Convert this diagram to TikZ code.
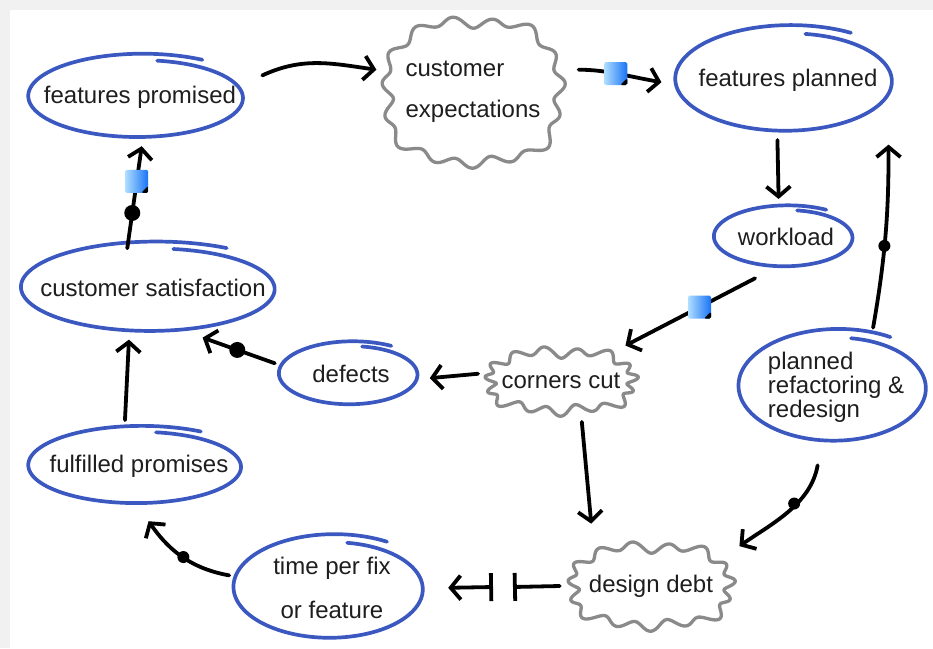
\documentclass[tikz,border=0pt]{standalone}
\usepackage{fontspec}
\setmainfont{Liberation Sans}
\usetikzlibrary{arrows.meta,shapes.geometric}
\definecolor{ellblue}{RGB}{58,88,192}
\definecolor{cloudgray}{RGB}{138,138,138}
\definecolor{ink}{RGB}{30,30,30}
\definecolor{sqlight}{RGB}{175,222,255}
\definecolor{sqdark}{RGB}{25,115,245}
\definecolor{framegray}{RGB}{241,241,241}
\newcommand{\skell}[3]{\begin{scope}[shift={(#1.center)}]\draw[ellline] plot[domain=0:382,samples=120,smooth,variable=\x] ({#2*(0.9+0.17*\x/382)*cos(80-\x)},{#3*(0.9+0.17*\x/382)*sin(80-\x)});\end{scope}}
\newcommand{\skcloud}[3]{\begin{scope}[shift={(#1.center)}]\draw[cloudline] plot[domain=0:360,samples=241,smooth,variable=\x] ({(#2*(1+0.1*sin(2*\x)*sin(2*\x))+4.5*sin(15*\x)+2*sin(7*\x+30))*cos(\x)},{(#3*(1+0.1*sin(2*\x)*sin(2*\x))+4.5*sin(15*\x)+2*sin(7*\x+30))*sin(\x)}) -- cycle;\end{scope}}
\tikzset{
  ellline/.style={draw=ellblue, line width=3.7pt, line cap=round},
  cloudline/.style={draw=cloudgray, line width=3.3pt, line join=round},
  nd/.style={ellipse, draw=none, inner sep=0pt, text=ink, font=\fontsize{24}{24}\selectfont},
  conn/.style={draw=black, line width=3.8pt, line cap=round, -{Straight Barb[length=10pt,width=24pt]}},
  bsq/.style={rectangle, draw=none, minimum size=23pt, inner sep=0pt, rounded corners=1.5pt,
    left color=sqlight, right color=sqdark,
    path picture={\fill[black] (path picture bounding box.south east) -- ++(-7pt,0) -- ++(7pt,7pt) -- cycle;}},
  dotb/.style={circle, fill=black, inner sep=0pt, minimum size=16pt},
  dots/.style={circle, fill=black, inner sep=0pt, minimum size=12pt}
}
\begin{document}
\begin{tikzpicture}[x=1pt,y=1pt]
\useasboundingbox (0,0) rectangle (933,-648);
\fill[framegray] (0,0) rectangle (933,-648);
\fill[white] (10,-10) rectangle (933,-648);

% nodes
\node[nd, minimum width=236pt, minimum height=98pt] (fp) at (140,-97) {features promised};
\node[nd, minimum width=200pt, minimum height=168pt, align=left] (ce) at (473,-92) {customer\\[17pt]expectations};
\node[nd, minimum width=238pt, minimum height=120pt] (fpl) at (788,-80) {features planned};
\node[nd, minimum width=158pt, minimum height=76pt] (wl) at (786,-237) {workload};
\node[nd, minimum width=276pt, minimum height=104pt] (cs) at (153,-288) {customer satisfaction};
\node[nd, minimum width=158pt, minimum height=78pt] (def) at (351,-374) {defects};
\node[nd, minimum width=168pt, minimum height=84pt] (cc) at (561,-381) {corners cut};
\node[nd, minimum width=216pt, minimum height=126pt, align=left] (prd) at (836,-387) {planned\\refactoring \&\\redesign};
\node[nd, minimum width=182pt, minimum height=104pt] (dd) at (651,-586) {design debt};
\node[nd, minimum width=210pt, minimum height=118pt, align=center] (tpf) at (332,-588) {time per fix\\[20pt]or feature};
\node[nd, minimum width=234pt, minimum height=92pt] (fup) at (139,-466) {fulfilled promises};

% outlines
\skell{fp}{110}{41}
\skell{fpl}{111}{52}
\skell{wl}{71}{30}
\skell{cs}{130}{44}
\skell{def}{71}{31}
\skell{prd}{96}{55}
\skell{tpf}{97}{51}
\skell{fup}{109}{38}
\skcloud{ce}{86}{70}
\skcloud{cc}{71}{29}
\skcloud{dd}{78}{39}

% connectors
\draw[conn] (fp.10) to[out=25,in=172] (ce.167);
\draw[conn, shorten <=9pt] (ce.13) to[out=0,in=170] node[bsq,pos=0.5] (sq1) {} (fpl.181);
\draw[conn] (fpl.260) -- (wl.101);
\draw[conn, shorten >=28pt] (prd.58) to[out=80,in=-90] node[dots,pos=0.38] (d1) {} (fpl.-20);
\draw[conn, shorten <=10pt, shorten >=9pt] (wl.239) -- node[bsq,pos=0.44] (sq2) {} (cc.29);
\draw[conn] (cc.175) -- (def.-3);
\draw[conn, shorten >=22pt] (cc.-63) -- (dd.145);
\draw[conn, shorten <=16pt, shorten >=17pt] (prd.256) to[out=-100,in=35] node[dots,pos=0.42] (d2) {} (dd.22);
\coordinate (mb1) at (493,-587);
\coordinate (mb2) at (513,-587);
\draw[conn, {Bar[width=28pt]}-] (mb2) -- (dd.180);
\draw[conn, {Bar[width=28pt]}-{Straight Barb[length=10pt,width=24pt]}, shorten >=11pt] (mb1) -- (tpf.0);
\draw[conn, shorten >=11pt] (tpf.173) to[out=170,in=-55] node[dots,pos=0.45] (d3) {} (fup.-86);
\draw[conn] (fup.107) -- (cs.245);
\draw[conn] (def.172) -- node[dotb,pos=0.52] (d4) {} (cs.-45);
\draw[conn, shorten <=-12pt] (cs.115) -- node[dotb,pos=0.26] (d5) {} node[bsq,pos=0.61] (sq3) {} (fp.-88);
\end{tikzpicture}
\end{document}
